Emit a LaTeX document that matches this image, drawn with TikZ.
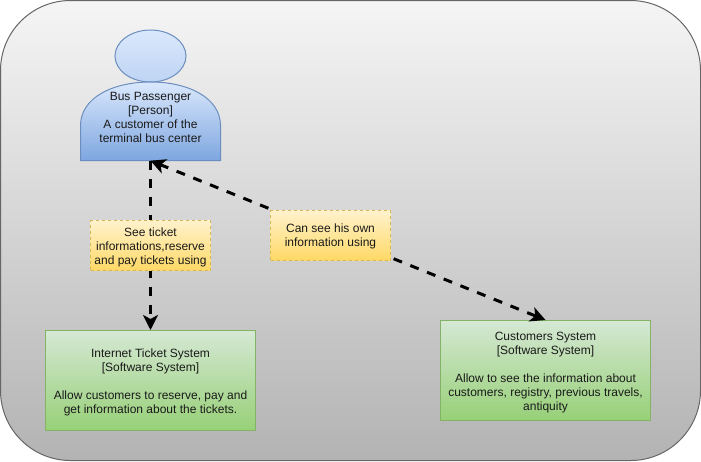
\documentclass[tikz,border=0pt]{standalone}
\usepackage{fontspec}
\setmainfont{Liberation Sans}
\usetikzlibrary{arrows.meta,shapes.geometric}
\definecolor{frameTop}{HTML}{F5F5F5}
\definecolor{frameBottom}{HTML}{B3B3B3}
\definecolor{frameLine}{HTML}{666666}
\definecolor{personTop}{HTML}{DAE8FC}
\definecolor{personBottom}{HTML}{7EA6E0}
\definecolor{personLine}{HTML}{6C8EBF}
\definecolor{systemTop}{HTML}{D5E8D4}
\definecolor{systemBottom}{HTML}{97D077}
\definecolor{systemLine}{HTML}{82B366}
\definecolor{noteTop}{HTML}{FFF2CC}
\definecolor{noteBottom}{HTML}{FFD966}
\definecolor{noteLine}{HTML}{D6B656}
\definecolor{labelText}{HTML}{1A1A1A}
\tikzset{
	label text/.style={font=\fontsize{12}{14}\selectfont, text=labelText, align=center, inner sep=0pt},
	person fill/.style={draw=personLine, line width=1pt, top color=personTop, bottom color=personBottom},
	system/.style={draw=systemLine, line width=1pt, top color=systemTop, bottom color=systemBottom, minimum width=210pt, minimum height=100pt, inner sep=0pt},
	note/.style={draw=noteLine, line width=1pt, dash pattern=on 3pt off 3pt, top color=noteTop, bottom color=noteBottom, minimum width=120pt, minimum height=50pt, inner sep=0pt},
	uses/.style={draw=black, line width=3pt, dash pattern=on 9pt off 9pt, -{Stealth[length=15pt,width=15pt,inset=4pt]}},
}
\begin{document}
\begin{tikzpicture}[x=1pt,y=-1pt]
	\useasboundingbox (0,0) rectangle (701,461);
	\node (frame) [draw=frameLine, line width=1pt, rounded corners=70pt, top color=frameTop, bottom color=frameBottom, minimum width=700pt, minimum height=460pt, inner sep=0pt] at (350.5,230.5) {};

	% person: head and shoulders
	\node (head) [ellipse, draw=personLine, line width=1pt, top color=personTop, bottom color=personTop!70!personBottom, minimum width=71pt, minimum height=52pt, inner sep=0pt] at (150.5,56) {};
	\shade[person fill] (80.5,160.5) -- (80.5,125) .. controls (81,98) and (112,82) .. (150.5,82) .. controls (189,82) and (220,98) .. (220.5,125) -- (220.5,160.5) -- cycle;
	\node (passenger) [minimum width=140pt, minimum height=78pt, inner sep=0pt] at (150.5,121.5) {};
	\node (passengerText) [label text] at (150.5,117) {Bus Passenger\\{}[Person]\\A customer of the\\terminal bus center};

	\node (ticket) [system] at (150.5,380.5) {};
	\node (ticketText) [label text] at (150.5,382) {Internet Ticket System\\{}[Software System]\\[14pt]Allow customers to reserve, pay and\\get information about the tickets.};
	\node (customers) [system] at (545.5,370.5) {};
	\node (customersText) [label text] at (545.5,372.5) {Customers System\\{}[Software System]\\[14pt]Allow to see the information about\\customers, registry, previous travels,\\antiquity};

	\draw[uses] (passenger.south) -- (ticket.north);
	\draw[uses, {Stealth[length=15pt,width=15pt,inset=4pt]}-{Stealth[length=15pt,width=15pt,inset=4pt]}] (passenger.south) -- (customers.north);

	\node (seeTicket) [note] at (150.5,245.5) {};
	\node (seeTicketText) [label text] at (150.5,247) {See ticket\\informations,reserve\\and pay tickets using};
	\node (seeOwn) [note] at (330.5,235.5) {};
	\node (seeOwnText) [label text] at (330.5,236) {Can see his own\\information using};
\end{tikzpicture}
\end{document}
